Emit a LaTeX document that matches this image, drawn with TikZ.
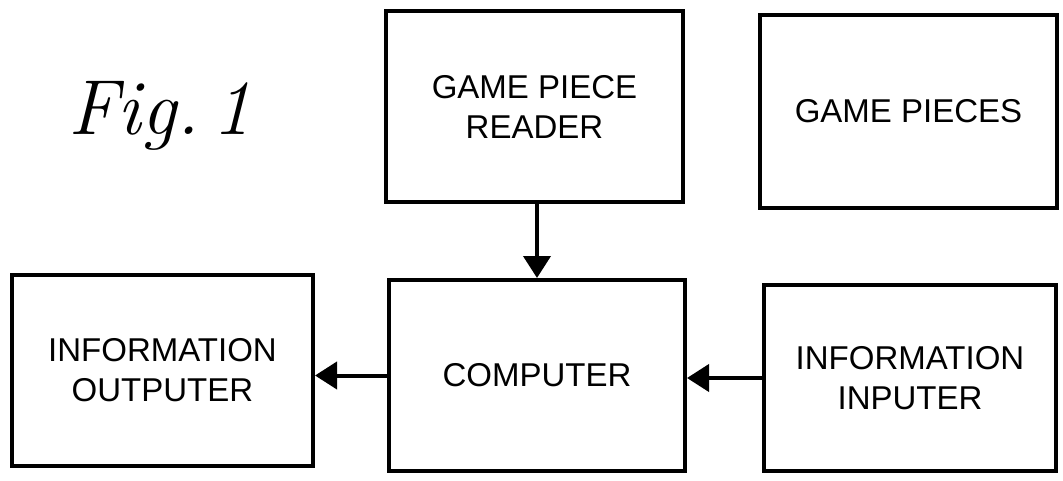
\documentclass[tikz,border=0pt]{standalone}
\usepackage{fontspec}
\setmainfont{Liberation Sans}
\usetikzlibrary{arrows.meta}
\begin{document}
\begin{tikzpicture}[x=1pt,y=1pt,
  blk/.style={draw=black,line width=4pt,rectangle,align=center,inner sep=0pt,
    font=\fontsize{33}{40}\selectfont},
  arr/.style={line width=4pt,-{Triangle[length=22pt,width=27pt]}}]
\useasboundingbox (0,0) rectangle (1063,480);
\node[font=\fontfamily{lmr}\fontsize{78}{80}\selectfont\itshape,anchor=base] (fig) at (160,345) {Fig.\,1};
\node[blk,minimum width=297pt,minimum height=191pt] (reader) at (534.5,373.5) {GAME PIECE\\READER};
\node[blk,minimum width=297pt,minimum height=193pt] (pieces) at (908.5,368.5) {GAME PIECES};
\node[blk,minimum width=301pt,minimum height=191pt] (outputer) at (162.5,109.5) {INFORMATION\\OUTPUTER};
\node[blk,minimum width=296pt,minimum height=191pt] (computer) at (537,104.5) {COMPUTER};
\node[blk,minimum width=292pt,minimum height=186pt] (inputer) at (910,102) {INFORMATION\\INPUTER};
\draw[arr] (computer.north |- reader.south) -- (computer.north);
\draw[arr] (computer.west) -- (computer.west -| outputer.east);
\draw[arr] (inputer.west) -- (inputer.west -| computer.east);
\end{tikzpicture}
\end{document}
